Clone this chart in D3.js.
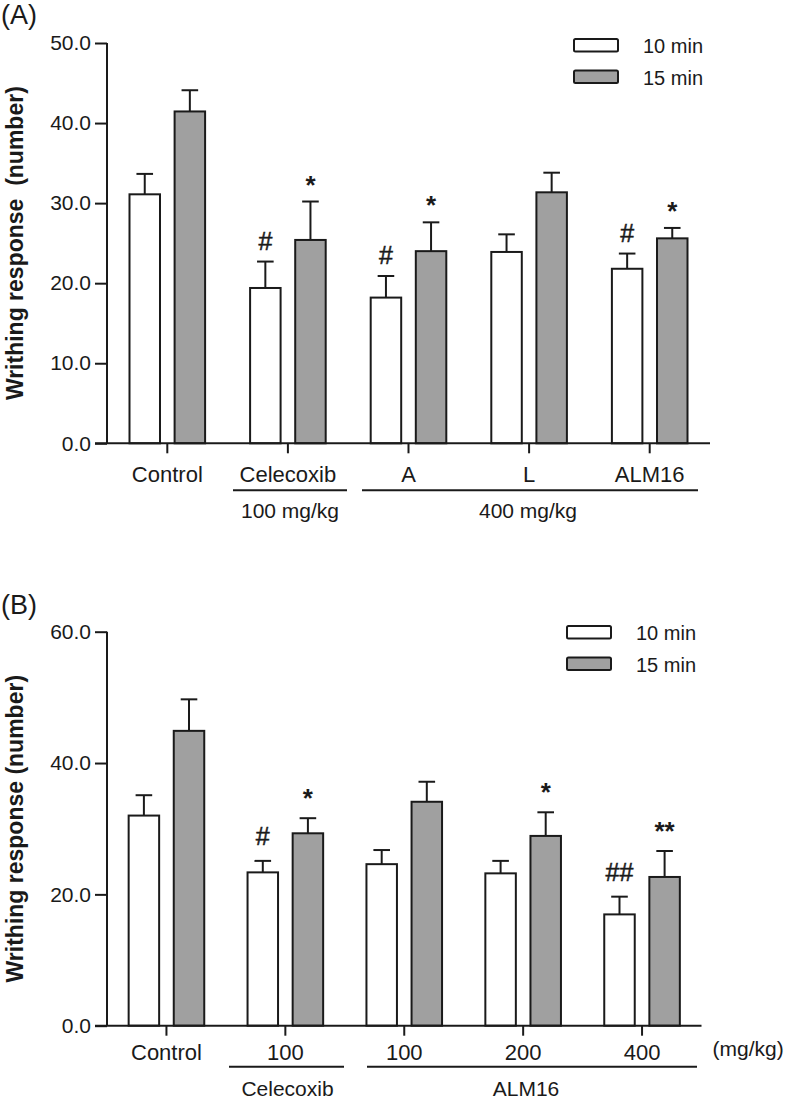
<!DOCTYPE html>
<html>
<head>
<meta charset="utf-8">
<script src="https://cdn.jsdelivr.net/npm/d3@7"></script>
<style>
  html, body { margin: 0; padding: 0; background: #fff; }
  svg { display: block; }
  text { font-family: "Liberation Sans", Arial, sans-serif; fill: #1a1a1a; }
</style>
</head>
<body>
<svg id="chart" width="787" height="1102"></svg>
<script>
// ---------- Data ----------
const seriesNames = ["10 min", "15 min"];
const seriesColors = ["#ffffff", "#a0a0a0"];

// Panel A
const groupsA = ["Control", "Celecoxib", "A", "L", "ALM16"];
const meanA10 = [31.1, 19.4, 18.2, 23.9, 21.8];
const semA10  = [2.55, 3.3, 2.7, 2.2, 1.9];
const meanA15 = [41.45, 25.4, 24.0, 31.35, 25.6];
const semA15  = [2.65, 4.8, 3.6, 2.45, 1.3];
const markA10 = ["", "#", "#", "", "#"];
const markA15 = ["", "*", "*", "", "*"];
const ticksA  = [0, 10, 20, 30, 40, 50];

// Panel B
const groupsB = ["Control", "100", "100", "200", "400"];
const meanB10 = [32.0, 23.35, 24.6, 23.2, 16.95];
const semB10  = [3.1, 1.75, 2.15, 1.9, 2.7];
const meanB15 = [44.9, 29.3, 34.1, 28.9, 22.65];
const semB15  = [4.8, 2.3, 3.05, 3.6, 3.95];
const markB10 = ["", "#", "", "", "##"];
const markB15 = ["", "*", "", "*", "**"];
const ticksB  = [0, 20, 40, 60];

const svg = d3.select("#chart");
const ink = "#1a1a1a";
const FONT = '"Liberation Sans", Arial, sans-serif';

function drawPanel(cfg) {
  const g = svg.append("g");
  const idx = cfg.groups.map((d, i) => i);
  const x = d3.scaleBand().domain(idx).range([cfg.left, cfg.right]).paddingInner(0).paddingOuter(0);
  const y = d3.scaleLinear().domain([0, cfg.ymax]).range([cfg.bottom, cfg.top]);
  const xs = d3.scaleBand().domain(seriesNames).range([-37.8, 37.8]).paddingInner(0.324).paddingOuter(0);

  // panel label
  g.append("text").attr("x", 1).attr("y", cfg.labelY).style("font-size", "27px").text(cfg.label);

  // y axis
  const yAxis = d3.axisLeft(y).tickValues(cfg.ticks).tickFormat(d3.format(".1f")).tickSize(12).tickPadding(4);
  const ya = g.append("g").attr("transform", `translate(${cfg.left},0)`).call(yAxis);
  ya.select(".domain").attr("stroke", ink).attr("stroke-width", 2).attr("d", `M0,${cfg.top}V${cfg.bottom}`);
  ya.selectAll(".tick line").attr("stroke", ink).attr("stroke-width", 2);
  ya.selectAll(".tick text").style("font-size", "21px").attr("fill", ink).style("font-family", FONT);

  // y title
  g.append("text")
    .attr("transform", `translate(${cfg.titleX},${(cfg.top + cfg.bottom) / 2}) rotate(-90)`)
    .attr("text-anchor", "middle").style("font-size", "23px").style("font-weight", "bold")
    .attr("xml:space", "preserve").style("white-space", "pre")
    .text(cfg.ytitle);

  // bars
  const data = [];
  idx.forEach(i => {
    data.push({ i, s: seriesNames[0], v: cfg.m10[i], e: cfg.s10[i], mark: cfg.k10[i], c: seriesColors[0] });
    data.push({ i, s: seriesNames[1], v: cfg.m15[i], e: cfg.s15[i], mark: cfg.k15[i], c: seriesColors[1] });
  });
  const cx = d => x(d.i) + x.bandwidth() / 2 + xs(d.s);
  const bw = xs.bandwidth();

  // error bars (upward only)
  g.selectAll(".err").data(data).enter().append("line")
    .attr("x1", d => cx(d) + bw / 2).attr("x2", d => cx(d) + bw / 2)
    .attr("y1", d => y(d.v)).attr("y2", d => y(d.v + d.e))
    .attr("stroke", ink).attr("stroke-width", 2);
  g.selectAll(".cap").data(data).enter().append("line")
    .attr("x1", d => cx(d) + bw / 2 - 8.3).attr("x2", d => cx(d) + bw / 2 + 8.3)
    .attr("y1", d => y(d.v + d.e)).attr("y2", d => y(d.v + d.e))
    .attr("stroke", ink).attr("stroke-width", 2);

  g.selectAll(".bar").data(data).enter().append("rect")
    .attr("x", d => cx(d)).attr("width", bw)
    .attr("y", d => y(d.v)).attr("height", d => y(0) - y(d.v))
    .attr("fill", d => d.c).attr("stroke", ink).attr("stroke-width", 2);

  // significance marks
  g.selectAll(".mark").data(data.filter(d => d.mark)).enter().append("text")
    .attr("x", d => cx(d) + bw / 2)
    .attr("y", d => y(d.v + d.e) - (d.mark.startsWith("*") ? cfg.starOff : cfg.hashOff))
    .attr("text-anchor", "middle")
    .style("font-size", d => d.mark.startsWith("*") ? "26px" : "25px")
    .style("font-weight", d => d.mark.startsWith("*") ? "bold" : "normal")
    .style("stroke", d => d.mark.startsWith("*") ? "none" : ink)
    .style("stroke-width", 0.5)
    .text(d => d.mark);

  // x axis
  const xAxis = d3.axisBottom(x).tickFormat(i => cfg.groups[i]).tickSize(10).tickPadding(cfg.xPad);
  const xa = g.append("g").attr("transform", `translate(0,${cfg.bottom})`).call(xAxis);
  xa.select(".domain").attr("stroke", ink).attr("stroke-width", 2).attr("d", `M${cfg.left - 12},0H${cfg.right}`);
  xa.selectAll(".tick line").attr("stroke", ink).attr("stroke-width", 2);
  xa.selectAll(".tick text").style("font-size", "22px").attr("fill", ink).style("font-family", FONT);

  // group brackets
  cfg.brackets.forEach(b => {
    g.append("line").attr("x1", b.x1).attr("x2", b.x2).attr("y1", cfg.bottom + cfg.brLine).attr("y2", cfg.bottom + cfg.brLine)
      .attr("stroke", ink).attr("stroke-width", 2);
    g.append("text").attr("x", (b.x1 + b.x2) / 2 + (b.dx || 0)).attr("y", cfg.bottom + cfg.brText)
      .attr("text-anchor", "middle").style("font-size", "21px").text(b.text);
  });
  if (cfg.unit) {
    g.append("text").attr("x", cfg.right + 11).attr("y", cfg.bottom + 30).style("font-size", "21px").text(cfg.unit);
  }

  // legend
  const lg = g.append("g");
  seriesNames.forEach((s, k) => {
    lg.append("rect").attr("x", cfg.legX).attr("y", cfg.legY + k * 31.5).attr("width", 44).attr("height", 12.5)
      .attr("rx", 1.5).attr("fill", seriesColors[k]).attr("stroke", ink).attr("stroke-width", 2);
    lg.append("text").attr("x", cfg.legX + 69).attr("y", cfg.legY + k * 31.5 + 14).style("font-size", "20px").text(s);
  });
}

drawPanel({
  label: "(A)", labelY: 24,
  groups: groupsA, m10: meanA10, s10: semA10, m15: meanA15, s15: semA15, k10: markA10, k15: markA15,
  ticks: ticksA, ymax: 50, top: 43, bottom: 443.3, left: 107, right: 710,
  titleX: 23, ytitle: "Writhing response  (number)",
  xPad: 13, brLine: 47, brText: 75, hashOff: 12, starOff: 8,
  brackets: [{ x1: 233, x2: 347, text: "100 mg/kg" }, { x1: 362, x2: 698, text: "400 mg/kg", dx: -2 }],
  legX: 574, legY: 39
});

drawPanel({
  label: "(B)", labelY: 614,
  groups: groupsB, m10: meanB10, s10: semB10, m15: meanB15, s15: semB15, k10: markB10, k15: markB15,
  ticks: ticksB, ymax: 60, top: 631.7, bottom: 1025.7, left: 107, right: 701.5,
  titleX: 23, ytitle: "Writhing response (number)",
  xPad: 9, brLine: 41, brText: 70, hashOff: 16, starOff: 11,
  brackets: [{ x1: 229, x2: 344, text: "Celecoxib", dx: 1 }, { x1: 367, x2: 697, text: "ALM16", dx: -6 }],
  unit: "(mg/kg)",
  legX: 567, legY: 626
});
</script>
</body>
</html>
